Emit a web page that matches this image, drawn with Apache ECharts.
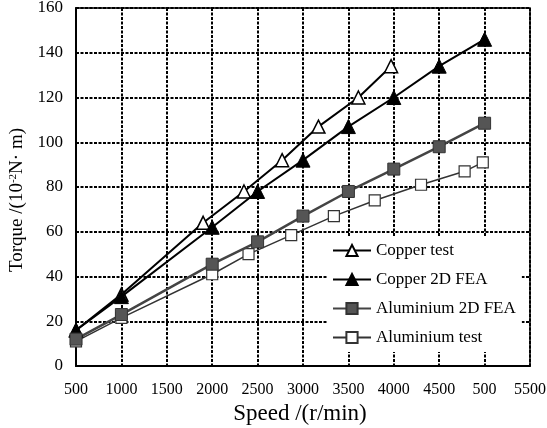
<!DOCTYPE html>
<html>
<head>
<meta charset="utf-8">
<script src="https://cdn.jsdelivr.net/npm/echarts@6/dist/echarts.min.js"></script>
<style>
  html, body { margin: 0; padding: 0; background: #fff; }
  #chart { width: 547px; height: 428px; }
</style>
</head>
<body>
<div id="chart"></div>
<script>
// Speed (r/min) and torque (10^-2 N·m) per series
const copperTestSpeed   = [500, 1000, 1900, 2350, 2770, 3170, 3610, 3970];
const copperTestTorque  = [16, 32, 64, 78, 92, 107, 120, 134];

const copperFeaSpeed    = [500, 1000, 2000, 2500, 3000, 3500, 4000, 4500, 5000];
const copperFeaTorque   = [16, 31, 62, 78, 92, 107, 120, 134, 146];

const aluFeaSpeed       = [500, 1000, 2000, 2500, 3000, 3500, 4000, 4500, 5000];
const aluFeaTorque      = [12, 23, 45.5, 55.5, 67, 78, 88, 98, 108.5];

const aluTestSpeed      = [500, 1000, 2000, 2400, 2870, 3340, 3790, 4300, 4780, 4980];
const aluTestTorque     = [11, 21.5, 41, 50, 58.5, 67, 74, 81, 87, 91];

// Tick labels along the speed axis
const speedTicks  = [500, 1000, 1500, 2000, 2500, 3000, 3500, 4000, 4500, 5000, 5500];
const speedLabels = ['500', '1000', '1500', '2000', '2500', '3000', '3500', '4000', '4500', '500', '5500'];
const torqueTicks = [0, 20, 40, 60, 80, 100, 120, 140, 160];

const seriesNames = ['Copper test', 'Copper 2D FEA', 'Aluminium 2D FEA', 'Aluminium test'];

function pairs(xs, ys) { return xs.map((x, i) => [x, ys[i]]); }

const serif = '"Liberation Serif", "DejaVu Serif", serif';
const gridDash = { color: '#000', width: 2, type: [3, 1.5] };

const chart = echarts.init(document.getElementById('chart'), null, { renderer: 'canvas' });

chart.setOption({
  backgroundColor: '#fff',
  animation: false,
  grid: {
    left: 76, right: 17, top: 8, bottom: 62,
    outerBoundsMode: 'none',
    show: true, borderColor: '#000', borderWidth: 1.5, backgroundColor: 'transparent'
  },
  xAxis: {
    type: 'value',
    min: speedTicks[0], max: speedTicks[speedTicks.length - 1], interval: 500,
    name: 'Speed /(r/min)',
    nameLocation: 'middle', nameGap: 36,
    nameTextStyle: { fontFamily: serif, fontSize: 23, color: '#000', padding: [0, 6, 0, 0] },
    axisLine: { show: true, lineStyle: { color: '#000', width: 2 } },
    axisTick: { show: false },
    axisLabel: {
      margin: 16, fontFamily: serif, fontSize: 16, color: '#000',
      formatter: v => speedLabels[speedTicks.indexOf(v)] ?? String(v)
    },
    splitLine: { show: true, lineStyle: gridDash }
  },
  yAxis: {
    type: 'value',
    min: torqueTicks[0], max: torqueTicks[torqueTicks.length - 1], interval: 20,
    name: 'Torque /(10{sup|-2}N· m)',
    nameLocation: 'middle', nameGap: 47, nameRotate: 90,
    nameTextStyle: {
      fontFamily: serif, fontSize: 19, color: '#000', padding: [0, 26, 0, 0],
      rich: { sup: { fontFamily: serif, fontSize: 11, color: '#000', verticalAlign: 'top', padding: [0, 0, 7, 0] } }
    },
    axisLine: { show: true, lineStyle: { color: '#000', width: 2 } },
    axisTick: { show: false },
    axisLabel: { margin: 13, fontFamily: serif, fontSize: 17, color: '#000' },
    splitLine: { show: true, lineStyle: gridDash }
  },
  legend: {
    orient: 'vertical',
    left: 328, top: 236,
    backgroundColor: '#fff',
    padding: [6, 6, 6, 4],
    itemWidth: 38, itemHeight: 14, itemGap: 12,
    textStyle: { fontFamily: serif, fontSize: 17, color: '#000', lineHeight: 17 },
    data: seriesNames
  },
  series: [
    {
      name: seriesNames[0], type: 'line',
      data: pairs(copperTestSpeed, copperTestTorque),
      symbol: 'triangle', symbolSize: 13,
      lineStyle: { color: '#000', width: 2 },
      itemStyle: { color: '#fff', borderColor: '#000', borderWidth: 1.5 },
      z: 3
    },
    {
      name: seriesNames[1], type: 'line',
      data: pairs(copperFeaSpeed, copperFeaTorque),
      symbol: 'triangle', symbolSize: 14,
      lineStyle: { color: '#000', width: 2 },
      itemStyle: { color: '#000', borderColor: '#000', borderWidth: 1 },
      z: 4
    },
    {
      name: seriesNames[2], type: 'line',
      data: pairs(aluFeaSpeed, aluFeaTorque),
      symbol: 'rect', symbolSize: 12,
      lineStyle: { color: '#444', width: 2.5 },
      itemStyle: { color: '#555', borderColor: '#333', borderWidth: 1 },
      z: 4
    },
    {
      name: seriesNames[3], type: 'line',
      data: pairs(aluTestSpeed, aluTestTorque),
      symbol: 'rect', symbolSize: 11,
      lineStyle: { color: '#333', width: 1.5 },
      itemStyle: { color: '#fff', borderColor: '#333', borderWidth: 1.2 },
      z: 3
    }
  ]
});
</script>
</body>
</html>
